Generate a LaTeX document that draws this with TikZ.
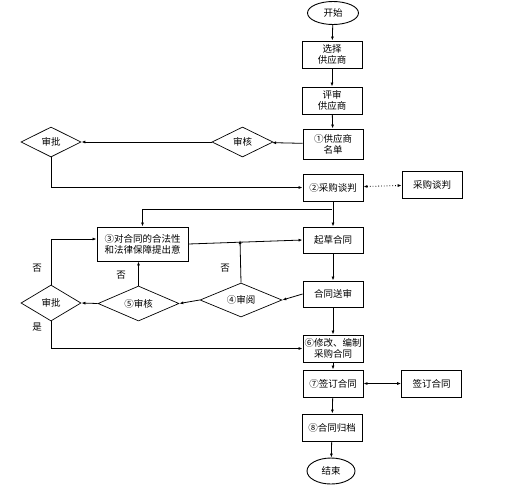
\documentclass[tikz,border=0pt]{standalone}
\usepackage{fontspec}
\setmainfont{Noto Sans CJK SC}
\usetikzlibrary{shapes.geometric,arrows.meta}

\begin{document}
\begin{tikzpicture}[x=1pt,y=-1pt,
    box/.style={draw,line width=0.9pt,minimum width=60pt,minimum height=27pt,inner sep=1pt,align=center,font=\fontsize{9.5}{11}\selectfont},
    dec/.style={draw,diamond,aspect=2,line width=0.7pt,inner sep=0pt,font=\fontsize{9.5}{11}\selectfont},
    term/.style={draw,ellipse,line width=0.9pt,inner sep=0pt,font=\fontsize{9.5}{11}\selectfont},
    arr/.style={-{Latex[length=4pt,width=3pt]},line width=0.8pt},
    lbl/.style={font=\fontsize{9.5}{11}\selectfont}]
  \useasboundingbox (0,0) rectangle (524,493);
  % main column
  \node[term,minimum width=51pt,minimum height=23pt] (start) at (333,13) {开始};
  \node[box] (pick) at (332,54.5) {选择\\供应商};
  \node[box] (eval) at (332,100.5) {评审\\供应商};
  \node[box,minimum height=30pt] (list) at (333,144) {①供应商\\名单};
  \node[box] (nego) at (333,187.5) {②采购谈判};
  \node[box,minimum height=26pt] (draft) at (333,240) {起草合同};
  \node[box,minimum height=26pt] (send) at (333,294) {合同送审};
  \node[box] (edit) at (333,348.5) {⑥修改、编制\\采购合同};
  \node[box] (sign) at (333,383.5) {⑦签订合同};
  \node[box] (file) at (332,427.5) {⑧合同归档};
  \node[term,minimum width=48pt,minimum height=26pt] (stop) at (331,471) {结束};
  % right side
  \node[box,line width=0.7pt] (negoR) at (432,184.5) {采购谈判};
  \node[box,line width=0.7pt] (signR) at (431.5,383.5) {签订合同};
  % left side
  \node[dec,minimum width=61pt,minimum height=30pt] (chk1) at (242.5,142) {审核};
  \node[dec,minimum width=60pt,minimum height=30pt] (apr1) at (51,142) {审批};
  \node[box,minimum width=91pt,minimum height=34pt] (legal) at (142.5,244) {③对合同的合法性\\和法律保障提出意};
  \node[dec,minimum width=82pt,minimum height=34pt] (rev) at (241,300) {④审阅};
  \node[dec,minimum width=81pt,minimum height=35pt] (chk2) at (138.5,303.5) {⑤审核};
  \node[dec,minimum width=60pt,minimum height=36pt] (apr2) at (51,303) {审批};
  \coordinate (fork) at (332,209);
  \coordinate (join) at (240,240);

  \draw[arr] (start) -- (pick);
  \draw[arr] (pick) -- (eval);
  \draw[arr] (eval) -- (list);
  \draw[arr] (list) -- (chk1);
  \draw[arr] (chk1) -- (apr1);
  \draw[arr] (apr1.south) |- (nego.west);
  \draw[{Latex[length=4pt,width=3pt]}-{Latex[length=4pt,width=3pt]},line width=0.8pt,dotted] (nego) -- (negoR);
  \draw[arr] (nego) -- (draft);
  \draw[arr] (fork) -| (legal.north);
  \draw[arr] (legal.east) -- (draft.west);
  \draw[arr] (rev.north) -- (join);
  \draw[arr] (draft) -- (send);
  \draw[arr] (send.west) -- (rev.east);
  \draw[arr] (rev.west) -- (chk2.east);
  \draw[arr] (chk2.north) -- (legal.south -| chk2.north);
  \draw[arr] (chk2.west) -- (apr2.east);
  \draw[arr] (apr2.north) |- ([yshift=5pt]legal.west);
  \draw[arr] (apr2.south) |- (edit.west);
  \draw[arr] (send) -- (edit);
  \draw[arr] (edit) -- (sign);
  \draw[{Latex[length=4pt,width=3pt]}-{Latex[length=4pt,width=3pt]},line width=0.8pt] (sign) -- (signR);
  \draw[arr] (sign) -- (file);
  \draw[arr] (file) -- (stop);
  % labels
  \node[lbl] at (37,268) {否};
  \node[lbl] at (121,275) {否};
  \node[lbl] at (225,268) {否};
  \node[lbl] at (37,327) {是};
\end{tikzpicture}
\end{document}
